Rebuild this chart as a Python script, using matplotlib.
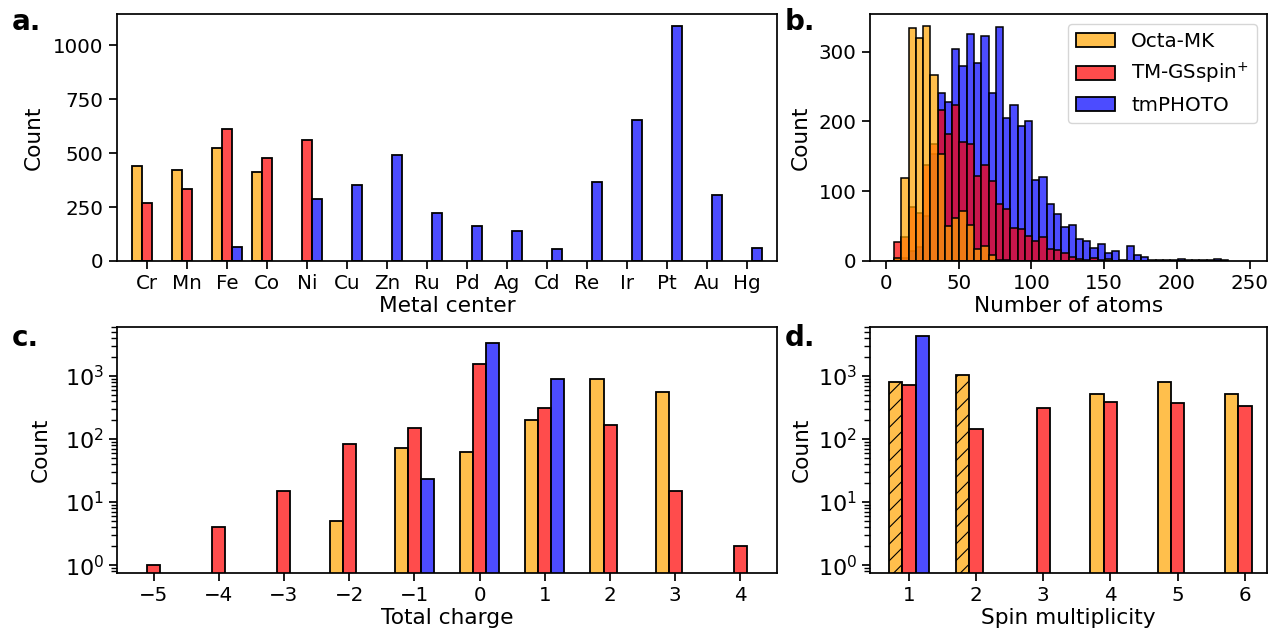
import numpy as np
import matplotlib.pyplot as plt
from matplotlib.colors import to_rgba
from matplotlib.patches import Patch

plt.rcParams['font.family'] = 'DejaVu Sans'
plt.rcParams['font.size'] = 14.3
plt.rcParams['axes.labelsize'] = 15.6
plt.rcParams['axes.linewidth'] = 1.25
plt.rcParams['xtick.major.size'] = 6
plt.rcParams['ytick.major.size'] = 6
plt.rcParams['xtick.major.width'] = 1.25
plt.rcParams['ytick.major.width'] = 1.25
plt.rcParams['ytick.minor.size'] = 4
plt.rcParams['ytick.minor.width'] = 1
plt.rcParams['hatch.linewidth'] = 0.8

datasets = ['Octa-MK', 'TM-GSspin$^{+}$', 'tmPHOTO']
colors = ['orange', 'red', 'blue']

# a. metal centers
metals = ['Cr', 'Mn', 'Fe', 'Co', 'Ni', 'Cu', 'Zn', 'Ru', 'Pd', 'Ag', 'Cd', 'Re', 'Ir', 'Pt', 'Au', 'Hg']
metal_octa = [442, 424, 522, 412, 0, 0, 0, 0, 0, 0, 0, 0, 0, 0, 0, 0]
metal_gs = [271, 336, 612, 478, 559, 0, 0, 0, 0, 0, 0, 0, 0, 0, 0, 0]
metal_photo = [0, 0, 65, 0, 287, 352, 492, 222, 163, 138, 56, 367, 653, 1091, 308, 59]

# b. number of atoms, bins of 5 starting at 0.5
atom_edges = np.arange(0.5, 231, 5)
atoms_octa = [0, 5, 119, 334, 320, 337, 267, 153, 50, 61, 72, 52, 17, 22, 8, 2,
              1, 0, 0, 0, 0, 0, 0, 0, 0, 0, 0, 0, 0, 0, 3, 0,
              0, 0, 0, 0, 0, 0, 0, 0, 0, 0, 0, 0, 0, 0, 0]
atoms_gs = [0, 27, 35, 77, 69, 138, 168, 216, 182, 223, 170, 168, 122, 138, 114, 82,
            75, 47, 46, 36, 29, 35, 17, 16, 12, 6, 3, 2, 4, 2, 1, 0,
            0, 0, 0, 0, 0, 0, 0, 0, 0, 0, 0, 0, 0, 0, 0]
atoms_photo = [0, 1, 4, 15, 20, 65, 153, 240, 228, 303, 280, 325, 284, 322, 241, 335,
               205, 223, 194, 201, 116, 121, 81, 68, 48, 52, 32, 28, 18, 25, 11, 14,
               2, 21, 8, 6, 2, 2, 2, 2, 3, 2, 1, 1, 2, 3, 1]

# c. total charge
charges = [-5, -4, -3, -2, -1, 0, 1, 2, 3, 4]
charge_octa = [0, 0, 0, 5, 72, 62, 203, 903, 556, 0]
charge_gs = [1, 4, 15, 85, 148, 1527, 311, 169, 15, 2]
charge_photo = [0, 0, 0, 0, 23, 3350, 883, 0, 0, 0]

# d. spin multiplicity
spins = [1, 2, 3, 4, 5, 6]
spin_octa = [792, 1045, 0, 517, 792, 517]
spin_gs = [726, 146, 307, 382, 369, 330]
spin_photo = [4327, 0, 0, 0, 0, 0]
hatched_spins = [1, 2]

fig = plt.figure(figsize=(12.73, 6.28), dpi=100)
W, H = 1273, 628


def add_ax(l, r, t, b):
    return fig.add_axes([l / W, 1 - b / H, (r - l) / W, (b - t) / H])


ax_a = add_ax(117, 777, 14, 261)
ax_b = add_ax(870, 1267, 14, 261)
ax_c = add_ax(117, 777, 327, 573)
ax_d = add_ax(870, 1267, 327, 573)


def grouped(ax, xpos, series, width):
    xpos = np.asarray(xpos, float)
    out = []
    for i, (vals, c) in enumerate(zip(series, colors)):
        vals = np.asarray(vals, float)
        m = vals > 0
        bars = ax.bar(xpos[m] + (i - 1) * width, vals[m], width,
                      facecolor=to_rgba(c, 0.7), edgecolor='black', linewidth=1.3)
        out.append((xpos[m], bars))
    return out


# a
grouped(ax_a, np.arange(len(metals)), [metal_octa, metal_gs, metal_photo], 0.25)
ax_a.set_xticks(np.arange(len(metals)))
ax_a.set_xticklabels(metals)
ax_a.set_xlim(-0.75, 15.75)
ax_a.set_yticks([0, 250, 500, 750, 1000])
ax_a.set_xlabel('Metal center', labelpad=2)
ax_a.set_ylabel('Count', labelpad=7)

# b
for vals, c in zip([atoms_photo, atoms_gs, atoms_octa], ['blue', 'red', 'orange']):
    ax_b.bar(atom_edges, vals, 5, align='edge',
             facecolor=to_rgba(c, 0.7), edgecolor='black', linewidth=1.1)
ax_b.set_xlim(-11, 262)
ax_b.set_xticks([0, 50, 100, 150, 200, 250])
ax_b.set_yticks([0, 100, 200, 300])
ax_b.set_xlabel('Number of atoms', labelpad=2)
ax_b.set_ylabel('Count', labelpad=6)
handles = [Patch(facecolor=to_rgba(c, 0.7), edgecolor='black', linewidth=1.3) for c in colors]
ax_b.legend(handles, datasets, loc='upper right', fontsize=14.3, handlelength=2.0)

# c
grouped(ax_c, charges, [charge_octa, charge_gs, charge_photo], 0.2)
ax_c.set_yscale('log')
ax_c.set_ylim(0.75, 6000)
ax_c.set_xlim(-5.56, 4.56)
ax_c.set_xticks(charges)
ax_c.tick_params(axis='y', labelsize=16)
ax_c.set_xlabel('Total charge', labelpad=2)
ax_c.set_ylabel('Count', labelpad=10)

# d
res = grouped(ax_d, spins, [spin_octa, spin_gs, spin_photo], 0.2)
xs, bars = res[0]
for x, bar in zip(xs, bars):
    if x in hatched_spins:
        bar.set_hatch('//')
ax_d.set_yscale('log')
ax_d.set_ylim(0.75, 6000)
ax_d.set_xlim(0.42, 6.33)
ax_d.set_xticks(spins)
ax_d.tick_params(axis='y', labelsize=16)
ax_d.set_xlabel('Spin multiplicity', labelpad=2)
ax_d.set_ylabel('Count')

for lab, x, y in [('a.', 12, 22), ('b.', 785, 22), ('c.', 12, 338), ('d.', 785, 338)]:
    fig.text(x / W, 1 - y / H, lab, fontsize=20, fontweight='bold', va='center', ha='left')

fig.savefig('out.png', dpi=100)
